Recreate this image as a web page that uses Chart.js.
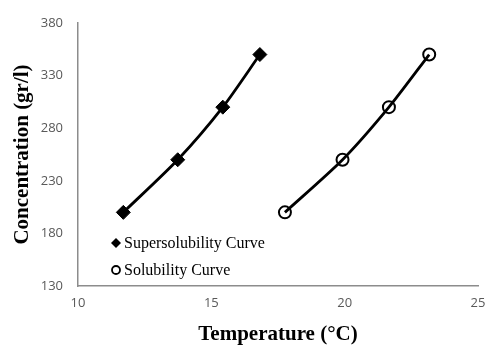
<!DOCTYPE html>
<html>
<head>
<meta charset="utf-8">
<script src="https://cdn.jsdelivr.net/npm/chart.js@4/dist/chart.umd.min.js"></script>
<style>
  html, body { margin: 0; padding: 0; background: #fff; }
  #wrap { width: 486px; height: 347px; }
</style>
</head>
<body>
<div id="wrap"><canvas id="canvas-solubility" width="486" height="347"></canvas></div>
<script>
// data
const superTemp = [11.7, 13.74, 15.43, 16.82];
const superConc = [200, 250, 300, 350];
const solTemp = [17.76, 19.92, 21.66, 23.17];
const solConc = [200, 250, 300, 350];
const xTicks = [10, 15, 20, 25];
const yTicks = [130, 180, 230, 280, 330, 380];

function toPoints(xs, ys) {
    return xs.map((x, i) => ({ x: x, y: ys[i] }));
}

// legend drawn inside the plot, bottom left
const insideLegend = {
    id: 'insideLegend',
    afterDraw(chart) {
        const ctx = chart.ctx;
        const area = chart.chartArea;
        const rows = [area.bottom - 43, area.bottom - 16];
        ctx.save();
        ctx.font = '16px "Liberation Serif", "Times New Roman", serif';
        ctx.fillStyle = '#000';
        ctx.textBaseline = 'middle';
        chart.data.datasets.forEach((ds, i) => {
            const mx = area.left + 38;
            const my = rows[i];
            ctx.lineWidth = 1.8;
            ctx.strokeStyle = '#000';
            if (ds.pointStyle === 'rectRot') {
                ctx.beginPath();
                ctx.moveTo(mx, my - 5);
                ctx.lineTo(mx + 5, my);
                ctx.lineTo(mx, my + 5);
                ctx.lineTo(mx - 5, my);
                ctx.closePath();
                ctx.fill();
            } else {
                ctx.beginPath();
                ctx.arc(mx, my, 4, 0, Math.PI * 2);
                ctx.fillStyle = '#fff';
                ctx.fill();
                ctx.stroke();
                ctx.fillStyle = '#000';
            }
            ctx.fillText(ds.label, mx + 8, my + 1);
        });
        ctx.restore();
    }
};

document.addEventListener("DOMContentLoaded", function () {

    const ctx = document.getElementById('canvas-solubility');

    new Chart(ctx, {
        type: 'scatter',
        data: {
            datasets: [{
                label: 'Supersolubility Curve',
                data: toPoints(superTemp, superConc),
                showLine: true,
                borderColor: '#000',
                backgroundColor: '#000',
                borderWidth: 2.8,
                tension: 0.25,
                pointStyle: 'rectRot',
                pointRadius: 7,
                pointBackgroundColor: '#000',
                pointBorderColor: '#000',
                pointBorderWidth: 1
            }, {
                label: 'Solubility Curve',
                data: toPoints(solTemp, solConc),
                showLine: true,
                borderColor: '#000',
                backgroundColor: '#fff',
                borderWidth: 2.8,
                tension: 0.25,
                pointStyle: 'circle',
                pointRadius: 6,
                pointBackgroundColor: 'rgba(255,255,255,0)',
                pointBorderColor: '#000',
                pointBorderWidth: 2
            }]
        },
        options: {
            responsive: false,
            animation: false,
            layout: { padding: { top: 23, right: 8, left: 0, bottom: 0 } },
            plugins: {
                legend: { display: false },
                tooltip: { enabled: false }
            },
            scales: {
                x: {
                    type: 'linear',
                    min: 10,
                    max: 25,
                    afterBuildTicks: (scale) => { scale.ticks = xTicks.map(v => ({ value: v })); },
                    afterFit: (scale) => {
                        scale.height = 61;
                        scale.paddingLeft = 0;
                        scale.paddingRight = 0;
                    },
                    grid: { display: false, drawTicks: false },
                    border: { color: '#8c8c8c', width: 1.5 },
                    ticks: {
                        color: '#595959',
                        padding: 9,
                        font: { family: '"Open Sans", sans-serif', size: 13 }
                    },
                    title: {
                        display: true,
                        text: 'Temperature (°C)',
                        color: '#000',
                        padding: { top: 6, bottom: 0 },
                        font: { family: '"Liberation Serif", "Times New Roman", serif', size: 21, weight: 'bold' }
                    }
                },
                y: {
                    min: 130,
                    max: 380,
                    afterBuildTicks: (scale) => { scale.ticks = yTicks.map(v => ({ value: v })); },
                    afterFit: (scale) => {
                        scale.width = 78;
                        scale.paddingTop = 0;
                        scale.paddingBottom = 0;
                    },
                    grid: { display: false, drawTicks: false },
                    border: { color: '#8c8c8c', width: 1.5 },
                    ticks: {
                        color: '#595959',
                        padding: 15,
                        font: { family: '"Open Sans", sans-serif', size: 13 }
                    },
                    title: {
                        display: true,
                        text: 'Concentration (gr/l)',
                        color: '#000',
                        padding: { top: 10, bottom: 0 },
                        font: { family: '"Liberation Serif", "Times New Roman", serif', size: 21, weight: 'bold' }
                    }
                }
            }
        },
        plugins: [insideLegend]
    });

});
</script>
</body>
</html>
